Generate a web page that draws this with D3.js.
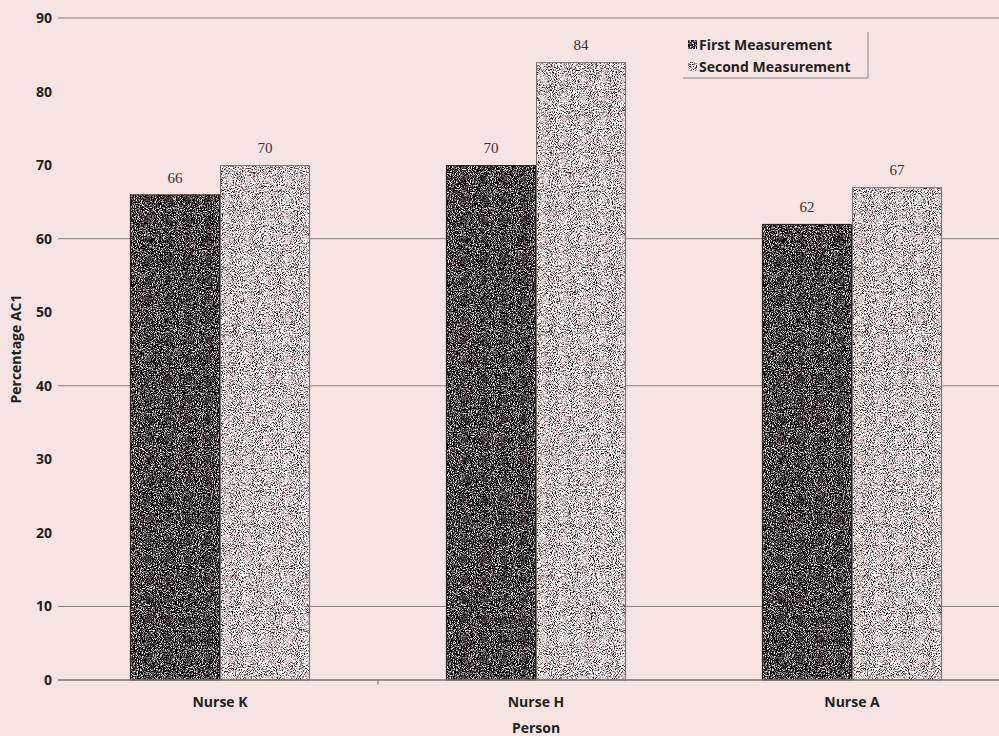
<!DOCTYPE html>
<html>
<head>
<meta charset="utf-8">
<script src="https://cdn.jsdelivr.net/npm/d3@7"></script>
<style>
  html, body { margin: 0; padding: 0; background: #f5e4e2; }
  svg { display: block; }
</style>
</head>
<body>
<div id="bars"></div>
<script>
// data
const persons = ["Nurse K", "Nurse H", "Nurse A"];
const seriesNames = ["First Measurement", "Second Measurement"];
const firstMeasurement = [66, 70, 62];
const secondMeasurement = [70, 84, 67];
const yTicks = [0, 10, 20, 30, 40, 50, 60, 70, 80, 90];
const gridTicks = [10, 40, 60, 90];
const dividerAfter = ["Nurse K"];

const width = 999, height = 736;
const bg = "#f5e4e2";

const svg = d3.select("#bars").append("svg")
  .attr("width", width)
  .attr("height", height)
  .attr("viewBox", [0, 0, width, height]);

svg.append("rect").attr("width", width).attr("height", height).attr("fill", bg);

/*******************************/
/*    Grain textures           */
/*******************************/
const defs = svg.append("defs");
const grain = (id, seed, vals) => {
  const f = defs.append("filter").attr("id", id)
    .attr("x", 0).attr("y", 0).attr("width", 1).attr("height", 1)
    .attr("color-interpolation-filters", "sRGB");
  f.append("feTurbulence")
    .attr("type", "fractalNoise")
    .attr("baseFrequency", 1.05)
    .attr("numOctaves", 2)
    .attr("seed", seed)
    .attr("result", "n");
  f.append("feColorMatrix")
    .attr("in", "n")
    .attr("type", "matrix")
    .attr("values", vals)
    .attr("result", "c");
  f.append("feComposite").attr("in", "c").attr("in2", "SourceGraphic").attr("operator", "in");
};
// dark: near-black with greyish speckles
grain("grainDark", 4,
  "3.3 0 0 0 -1.40  3.3 0 0 0 -1.44  3.3 0 0 0 -1.43  0 0 0 0 1");
// light: pale pink with grey speckles
grain("grainLight", 9,
  "-3.3 0 0 0 2.52  -3.3 0 0 0 2.45  -3.3 0 0 0 2.45  0 0 0 0 1");

/*******************************/
/*    Scales                   */
/*******************************/
const yScale = d3.scaleLinear().domain([0, 90]).range([680, 18]);

const xScale = d3.scaleBand()
  .domain(persons)
  .range([62, 1010])
  .paddingInner(0.43)
  .paddingOuter(0.215);

const xSub = d3.scaleBand()
  .domain(seriesNames)
  .range([0, xScale.bandwidth()]);

const axisLeft = 58;

// grid lines
svg.selectAll(".grid")
  .data(gridTicks)
  .join("line")
    .attr("class", "grid")
    .attr("x1", axisLeft).attr("x2", width)
    .attr("y1", d => yScale(d)).attr("y2", d => yScale(d))
    .attr("stroke", "#8a8080")
    .attr("stroke-width", 1);

// y tick labels
svg.selectAll(".ylab")
  .data(yTicks)
  .join("text")
    .attr("class", "ylab")
    .attr("x", 52)
    .attr("y", d => yScale(d) + 5)
    .attr("text-anchor", "end")
    .attr("font-family", "'Open Sans', sans-serif")
    .attr("font-weight", 700)
    .attr("font-size", 14)
    .attr("fill", "#231f20")
    .text(d => d);

/*******************************/
/*    Bars                     */
/*******************************/
const rows = persons.map((p, i) => ({
  person: p,
  values: [
    { key: seriesNames[0], value: firstMeasurement[i] },
    { key: seriesNames[1], value: secondMeasurement[i] }
  ]
}));

const groups = svg.selectAll(".grp")
  .data(rows)
  .join("g")
    .attr("class", "grp")
    .attr("transform", d => `translate(${xScale(d.person)},0)`);

groups.selectAll(".bar")
  .data(d => d.values)
  .join("rect")
    .attr("class", "bar")
    .attr("x", d => xSub(d.key))
    .attr("y", d => yScale(d.value))
    .attr("width", xSub.bandwidth())
    .attr("height", d => yScale(0) - yScale(d.value))
    .attr("fill", d => d.key === seriesNames[0] ? "#3a3334" : "#e6d6d5")
    .attr("filter", d => d.key === seriesNames[0] ? "url(#grainDark)" : "url(#grainLight)");

groups.selectAll(".outline")
  .data(d => d.values)
  .join("rect")
    .attr("class", "outline")
    .attr("x", d => xSub(d.key) + 0.5)
    .attr("y", d => yScale(d.value) + 0.5)
    .attr("width", xSub.bandwidth() - 1)
    .attr("height", d => yScale(0) - yScale(d.value) - 0.5)
    .attr("fill", "none")
    .attr("stroke", d => d.key === seriesNames[0] ? "#2a2425" : "#7a7071")
    .attr("stroke-width", 1);

groups.selectAll(".val")
  .data(d => d.values)
  .join("text")
    .attr("class", "val")
    .attr("x", d => xSub(d.key) + xSub.bandwidth() / 2)
    .attr("y", d => yScale(d.value) - 12)
    .attr("text-anchor", "middle")
    .attr("font-family", "'Liberation Serif', 'DejaVu Serif', serif")
    .attr("font-size", 15)
    .attr("fill", "#3a3334")
    .text(d => d.value);

/*******************************/
/*    X axis                   */
/*******************************/
svg.append("line")
  .attr("x1", axisLeft).attr("x2", width)
  .attr("y1", yScale(0)).attr("y2", yScale(0))
  .attr("stroke", "#7a7071")
  .attr("stroke-width", 1.5);

const step = xScale.step();
svg.selectAll(".xtick")
  .data(dividerAfter)
  .join("line")
    .attr("class", "xtick")
    .attr("x1", d => xScale(d) + xScale.bandwidth() + (step - xScale.bandwidth()) / 2)
    .attr("x2", d => xScale(d) + xScale.bandwidth() + (step - xScale.bandwidth()) / 2)
    .attr("y1", yScale(0)).attr("y2", yScale(0) + 5)
    .attr("stroke", "#7a7071");

svg.selectAll(".xlab")
  .data(persons)
  .join("text")
    .attr("class", "xlab")
    .attr("x", d => xScale(d) + xScale.bandwidth() / 2)
    .attr("y", 707)
    .attr("text-anchor", "middle")
    .attr("font-family", "'Open Sans', sans-serif")
    .attr("font-weight", 700)
    .attr("font-size", 14)
    .attr("fill", "#231f20")
    .text(d => d);

svg.append("text")
  .attr("x", 536)
  .attr("y", 733)
  .attr("text-anchor", "middle")
  .attr("font-family", "'Open Sans', sans-serif")
  .attr("font-weight", 700)
  .attr("font-size", 14)
  .attr("fill", "#231f20")
  .text("Person");

svg.append("text")
  .attr("transform", `translate(21, ${yScale(45)}) rotate(-90)`)
  .attr("text-anchor", "middle")
  .attr("font-family", "'Open Sans', sans-serif")
  .attr("font-weight", 700)
  .attr("font-size", 14)
  .attr("fill", "#231f20")
  .text("Percentage AC1");

/*******************************/
/*    Legend                   */
/*******************************/
const legend = svg.append("g");
legend.append("path")
  .attr("d", "M868,32V78H683")
  .attr("fill", "none")
  .attr("stroke", "#8a8080")
  .attr("stroke-width", 1);

const items = legend.selectAll(".item")
  .data(seriesNames)
  .join("g")
    .attr("class", "item")
    .attr("transform", (d, i) => `translate(688, ${50 + i * 22})`);

items.append("rect")
  .attr("x", 0).attr("y", -10)
  .attr("width", 9).attr("height", 9)
  .attr("fill", (d, i) => i === 0 ? "#3a3334" : "#e6d6d5")
  .attr("filter", (d, i) => i === 0 ? "url(#grainDark)" : "url(#grainLight)");

items.append("text")
  .attr("x", 11)
  .attr("y", 0)
  .attr("font-family", "'Open Sans', sans-serif")
  .attr("font-weight", 700)
  .attr("font-size", 14)
  .attr("fill", "#231f20")
  .text(d => d);
</script>
</body>
</html>
